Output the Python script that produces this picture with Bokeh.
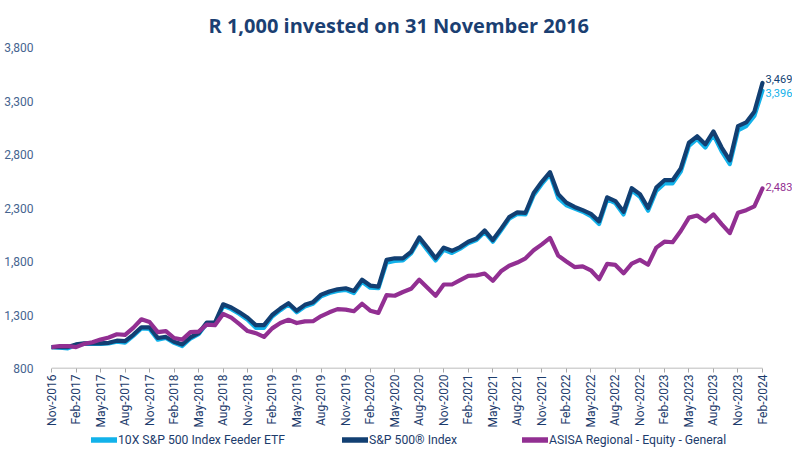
import math
from bokeh.plotting import figure
from bokeh.layouts import column
from bokeh.models import (FixedTicker, NumeralTickFormatter, Legend, LegendItem,
                          Label, Range1d, ColumnDataSource)
from bokeh.embed import file_html
from bokeh.resources import INLINE

# ---------------- data (monthly, Nov-2016 .. Feb-2024) ----------------
tick_labels = ["Nov-2016", "Feb-2017", "May-2017", "Aug-2017", "Nov-2017",
               "Feb-2018", "May-2018", "Aug-2018", "Nov-2018", "Feb-2019",
               "May-2019", "Aug-2019", "Nov-2019", "Feb-2020", "May-2020",
               "Aug-2020", "Nov-2020", "Feb-2021", "May-2021", "Aug-2021",
               "Nov-2021", "Feb-2022", "May-2022", "Aug-2022", "Nov-2022",
               "Feb-2023", "May-2023", "Aug-2023", "Nov-2023", "Feb-2024"]

etf_10x = [1000, 995, 988, 1020, 1030, 1030, 1030, 1035, 1050, 1042,
           1105, 1175, 1170, 1070, 1085, 1040, 1010, 1080, 1120, 1220,
           1215, 1385, 1355, 1310, 1255, 1180, 1180, 1285, 1345, 1400,
           1325, 1380, 1405, 1475, 1505, 1525, 1535, 1505, 1610, 1555,
           1550, 1790, 1805, 1810, 1875, 2005, 1905, 1810, 1910, 1880,
           1920, 1970, 2000, 2075, 1985, 2090, 2200, 2245, 2240, 2420,
           2525, 2615, 2395, 2325, 2295, 2265, 2225, 2150, 2380, 2345,
           2240, 2465, 2405, 2275, 2460, 2530, 2530, 2640, 2880, 2945,
           2865, 2985, 2830, 2710, 3025, 3065, 3160, 3396]

sp500 = [1000, 1000, 1000, 1025, 1035, 1035, 1035, 1040, 1060, 1055,
         1115, 1185, 1185, 1085, 1095, 1050, 1025, 1090, 1130, 1230,
         1230, 1400, 1370, 1325, 1275, 1205, 1205, 1300, 1360, 1410,
         1340, 1395, 1420, 1490, 1520, 1540, 1550, 1525, 1630, 1575,
         1565, 1815, 1830, 1830, 1890, 2025, 1930, 1830, 1930, 1900,
         1935, 1985, 2015, 2090, 2000, 2105, 2215, 2260, 2255, 2440,
         2545, 2635, 2430, 2350, 2310, 2280, 2245, 2175, 2400, 2365,
         2265, 2485, 2430, 2300, 2490, 2560, 2560, 2670, 2910, 2970,
         2895, 3015, 2865, 2745, 3065, 3100, 3200, 3469]

asisa = [1000, 1010, 1010, 1000, 1030, 1045, 1070, 1090, 1120, 1115,
         1180, 1260, 1235, 1140, 1150, 1085, 1070, 1140, 1145, 1210,
         1205, 1310, 1275, 1215, 1150, 1130, 1095, 1175, 1225, 1255,
         1225, 1240, 1242, 1290, 1325, 1355, 1350, 1335, 1405, 1340,
         1320, 1485, 1480, 1515, 1545, 1630, 1555, 1480, 1585, 1585,
         1625, 1665, 1670, 1688, 1620, 1708, 1760, 1790, 1830, 1905,
         1960, 2020, 1855, 1800, 1748, 1755, 1718, 1635, 1778, 1768,
         1690, 1780, 1815, 1770, 1930, 1985, 1980, 2085, 2210, 2230,
         2175, 2240, 2150, 2065, 2255, 2280, 2315, 2483]

series_names = ["10X S&P 500 Index Feeder ETF", "S&P 500\u00ae Index",
                "ASISA Regional - Equity - General"]
y_ticks = [800, 1300, 1800, 2300, 2800, 3300, 3800]

# ---------------- styling ----------------
C_LIGHT = "#12b2ea"
C_DARK = "#123f72"
C_PURPLE = "#922f92"
C_TITLE = "#1b3f72"
C_YLAB = "#46648f"
C_XLAB = "#1d3c6c"
C_AXIS = "#a6a6a6"
COLORS = [C_LIGHT, C_DARK, C_PURPLE]
LEGEND_X = [40, 291, 471]
LW = 4.2

W, H = 792, 449
MAIN_H = 430
LEFT, DATA_RIGHT, TOP, BOTTOM = 51, 762, 43, 371

n = len(sp500)
x = list(range(n))
src = ColumnDataSource(dict(x=x, etf=etf_10x, sp=sp500, asisa=asisa))

# frame runs to the right edge so that the end labels are not clipped
px_per_step = (DATA_RIGHT - LEFT) / (n - 1)
x_end = (n - 1) + (W - DATA_RIGHT) / px_per_step

p = figure(width=W, height=MAIN_H, output_backend="svg", toolbar_location=None,
           x_range=Range1d(0, x_end), y_range=Range1d(y_ticks[0], y_ticks[-1]),
           min_border_left=LEFT, min_border_right=0, min_border_top=TOP,
           min_border_bottom=MAIN_H - BOTTOM)
p.background_fill_color = "white"
p.border_fill_color = "white"
p.outline_line_color = None
p.xgrid.visible = False
p.ygrid.visible = False

p.title.text = "R 1,000 invested on 31 November 2016"
p.title.align = "left"
p.title.offset = 157
p.title.standoff = 18
p.title.text_font = "Open Sans"
p.title.text_font_style = "bold"
p.title.text_font_size = "20px"
p.title.text_color = C_TITLE

# axis line only under the data span
p.segment(x0=[x[0]], y0=[y_ticks[0]], x1=[x[-1]], y1=[y_ticks[0]],
          line_color=C_AXIS, line_width=1.5)

r_light = p.line("x", "etf", source=src, line_color=C_LIGHT, line_width=LW,
                 line_join="round", line_cap="round")
r_dark = p.line("x", "sp", source=src, line_color=C_DARK, line_width=LW,
                line_join="round", line_cap="round")
r_purple = p.line("x", "asisa", source=src, line_color=C_PURPLE, line_width=LW,
                  line_join="round", line_cap="round")

# x axis
tick_pos = [3 * i for i in range(len(tick_labels))]
p.xaxis.ticker = FixedTicker(ticks=tick_pos)
p.xaxis.major_label_overrides = {tp: lbl for tp, lbl in zip(tick_pos, tick_labels)}
p.xaxis.major_label_orientation = math.pi / 2
p.xaxis.axis_line_color = None
p.xaxis.major_tick_line_color = C_AXIS
p.xaxis.major_tick_out = 4
p.xaxis.major_tick_in = 0
p.xaxis.minor_tick_line_color = None
p.xaxis.major_label_standoff = 2
p.xaxis.major_label_text_font = "Roboto"
p.xaxis.major_label_text_font_size = "12px"
p.xaxis.major_label_text_color = C_XLAB

# y axis
p.yaxis.ticker = FixedTicker(ticks=y_ticks)
p.yaxis.formatter = NumeralTickFormatter(format="0,0")
p.yaxis.axis_line_color = None
p.yaxis.major_tick_line_color = None
p.yaxis.minor_tick_line_color = None
p.yaxis.major_label_standoff = 12
p.yaxis.major_label_text_font = "Roboto"
p.yaxis.major_label_text_font_size = "12px"
p.yaxis.major_label_text_color = C_YLAB

# end-value labels
for vals, col, yoff in [(sp500, C_DARK, 4), (etf_10x, C_LIGHT, -2), (asisa, C_PURPLE, 1)]:
    p.add_layout(Label(x=n - 1, y=vals[-1], text=f"{vals[-1]:,}", x_offset=3,
                       y_offset=yoff, text_font="Roboto", text_font_size="11px",
                       text_color=col, text_baseline="middle", text_align="left"))

# ---------------- legend strip below the chart ----------------
LEG_H = H - MAIN_H
pl = figure(width=W, height=LEG_H, output_backend="svg", toolbar_location=None,
            x_range=Range1d(0, W), y_range=Range1d(0, LEG_H),
            x_axis_location=None, y_axis_location=None,
            min_border=0, min_border_left=0, min_border_right=0,
            min_border_top=0, min_border_bottom=0)
pl.xgrid.visible = False
pl.ygrid.visible = False
pl.outline_line_color = None
pl.background_fill_color = "white"
pl.border_fill_color = "white"

nan = float("nan")
for lbl, col, lx in zip(series_names, COLORS, LEGEND_X):
    r = pl.line(x=[nan], y=[nan], line_color=col, line_width=LW + 1.3,
                line_cap="round")
    leg = Legend(items=[LegendItem(label=lbl, renderers=[r])],
                 location=(lx, 2), orientation="horizontal",
                 padding=0, margin=0, spacing=0,
                 border_line_alpha=0, background_fill_alpha=0,
                 glyph_width=26, glyph_height=15, label_standoff=1,
                 label_text_font="Roboto", label_text_font_size="12.2px",
                 label_text_color=C_XLAB, label_height=15)
    pl.add_layout(leg)

layout = column(p, pl, spacing=0)
open("out.html", "w").write(file_html(layout, INLINE))
